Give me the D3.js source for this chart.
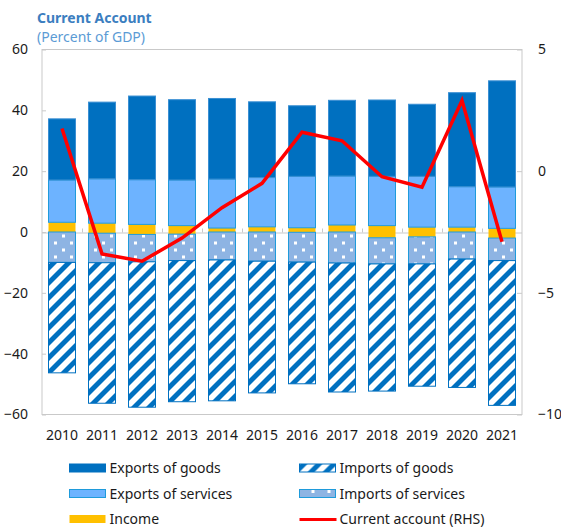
<!DOCTYPE html>
<html>
<head>
<meta charset="utf-8">
<script src="https://cdn.jsdelivr.net/npm/d3@7"></script>
<style>
  html, body { margin: 0; padding: 0; background: #fff; }
  svg { display: block; font-family: "Noto Sans", sans-serif; }
</style>
</head>
<body>
<div id="chart"></div>
<script>
// values in percent of GDP
const years = ['2010', '2011', '2012', '2013', '2014', '2015', '2016', '2017', '2018', '2019', '2020', '2021'];
const incomeCredit = [3.2, 2.9, 2.5, 2.1, 1.3, 1.7, 1.4, 2.3, 2.1, 1.6, 1.6, 1.2];
const incomeDebit = [0, -0.4, -0.8, -0.7, 0, 0, -0.1, 0, -1.9, -1.6, 0, -2.0];
const exportsServices = [13.9, 14.6, 14.7, 15.0, 16.1, 16.2, 16.9, 16.1, 16.2, 16.7, 13.3, 13.6];
const exportsGoods = [20.1, 25.2, 27.5, 26.4, 26.5, 24.9, 23.2, 24.9, 25.1, 23.7, 30.9, 34.9];
const importsServices = [-10.0, -9.7, -9.0, -8.7, -9.2, -9.6, -9.8, -10.2, -8.6, -8.9, -8.9, -7.4];
const importsGoods = [-36.3, -46.2, -47.8, -46.4, -46.3, -43.3, -40.0, -42.4, -41.8, -40.2, -42.2, -47.6];
const currentAccount = [1.75, -3.4, -3.7, -2.75, -1.5, -0.5, 1.6, 1.25, -0.23, -0.66, 2.9, -2.9];

const leftTicks = [60, 40, 20, 0, -20, -40, -60];
const rightTicks = [5, 0, -5, -10];

const width = 561, height = 527;
const margin = { top: 49.5, right: 39, bottom: 112.5, left: 42 };
const innerW = width - margin.left - margin.right;
const innerH = height - margin.top - margin.bottom;

const svg = d3.select('#chart').append('svg')
    .attr('width', width)
    .attr('height', height);

const defs = svg.append('defs');

// white/blue upward diagonal for imports of goods
const hatch = defs.append('pattern')
    .attr('id', 'hatch')
    .attr('patternUnits', 'userSpaceOnUse')
    .attr('width', 15)
    .attr('height', 15);
hatch.append('rect').attr('width', 15).attr('height', 15).attr('fill', '#fff');
hatch.append('path')
    .attr('d', 'M-4,4 L4,-4 M0,15 L15,0 M11,19 L19,11')
    .attr('stroke', '#0070C0')
    .attr('stroke-width', 4.4)
    .attr('shape-rendering', 'crispEdges');

// sparse white dots for imports of services
const dots = defs.append('pattern')
    .attr('id', 'dots')
    .attr('patternUnits', 'userSpaceOnUse')
    .attr('width', 16)
    .attr('height', 14);
dots.append('rect').attr('width', 16).attr('height', 14).attr('fill', '#8EB4E3');
dots.append('rect').attr('x', 4).attr('y', 3).attr('width', 3).attr('height', 3).attr('fill', '#fff');
dots.append('rect').attr('x', 12).attr('y', 10).attr('width', 3).attr('height', 3).attr('fill', '#fff');

const series = [
    { key: 'incomeCredit', values: incomeCredit, fill: '#FFC000', stroke: 'none' },
    { key: 'incomeDebit', values: incomeDebit, fill: '#FFC000', stroke: 'none' },
    { key: 'exportsServices', values: exportsServices, fill: '#6DB3FF', stroke: '#1F9BDB' },
    { key: 'exportsGoods', values: exportsGoods, fill: '#0070C0', stroke: '#3A8FD3' },
    { key: 'importsServices', values: importsServices, fill: 'url(#dots)', stroke: '#1F9BDB' },
    { key: 'importsGoods', values: importsGoods, fill: 'url(#hatch)', stroke: '#0070C0' }
];

const table = years.map((y, i) => {
    const row = { year: y };
    series.forEach(s => { row[s.key] = s.values[i]; });
    return row;
});

const stacked = d3.stack()
    .keys(series.map(s => s.key))
    .offset(d3.stackOffsetDiverging)(table);

const x = d3.scaleBand()
    .domain(years)
    .range([0, innerW])
    .paddingInner(0.3)
    .paddingOuter(0.15);

const y = d3.scaleLinear().domain([-60, 60]).range([innerH, 0]);
const y2 = d3.scaleLinear().domain([-10, 5]).range([innerH, 0]);

const g = svg.append('g')
    .attr('transform', `translate(${margin.left},${margin.top})`);

// frame
g.append('rect')
    .attr('x', 0).attr('y', 0)
    .attr('width', innerW).attr('height', innerH)
    .attr('fill', 'none')
    .attr('stroke', '#c9c9c9')
    .attr('stroke-width', 1);

// zero line with category ticks
g.append('line')
    .attr('x1', 0).attr('x2', innerW)
    .attr('y1', Math.round(y(0)) + 0.5).attr('y2', Math.round(y(0)) + 0.5)
    .attr('stroke', '#c9c9c9');
g.append('g').selectAll('line')
    .data(years.slice(1))
    .join('line')
    .attr('x1', d => Math.round(x(d) - x.step() * x.paddingInner() / 2) + 0.5)
    .attr('x2', d => Math.round(x(d) - x.step() * x.paddingInner() / 2) + 0.5)
    .attr('y1', Math.round(y(0)))
    .attr('y2', Math.round(y(0)) - 4)
    .attr('stroke', '#c9c9c9');

// bars
stacked.forEach((layer, li) => {
    const s = series[li];
    g.append('g')
        .selectAll('rect')
        .data(layer.filter(d => d[1] - d[0] !== 0))
        .join('rect')
        .attr('x', d => x(d.data.year) + 0.5)
        .attr('width', x.bandwidth() - 1)
        .attr('y', d => y(d[1]))
        .attr('height', d => y(d[0]) - y(d[1]))
        .attr('fill', s.fill)
        .attr('stroke', s.stroke)
        .attr('stroke-width', 1);
});

// current account line (RHS)
const line = d3.line()
    .x((d, i) => x(years[i]) + x.bandwidth() / 2)
    .y(d => y2(d));
g.append('path')
    .datum(currentAccount)
    .attr('d', line)
    .attr('fill', 'none')
    .attr('stroke', '#FF0000')
    .attr('stroke-width', 3.5)
    .attr('stroke-linejoin', 'miter');

// axes
const axisLeft = d3.axisLeft(y).tickValues(leftTicks).tickSize(-4).tickPadding(14);
const axisRight = d3.axisRight(y2).tickValues(rightTicks).tickSize(-5).tickPadding(16);
const axisBottom = d3.axisBottom(x).tickSize(0).tickPadding(16);

const styleAxis = sel => {
    sel.select('.domain').remove();
    sel.selectAll('line').attr('stroke', '#c9c9c9');
    sel.selectAll('text').attr('fill', '#1a1a1a').style('font-size', '14px')
        .style('font-family', '"Noto Sans", sans-serif');
};

g.append('g').call(axisLeft).call(styleAxis);
g.append('g').attr('transform', `translate(${innerW},0)`).call(axisRight).call(styleAxis);
g.append('g').attr('transform', `translate(0,${innerH})`).call(axisBottom).call(styleAxis);

// title
svg.append('text')
    .attr('x', 37).attr('y', 23)
    .attr('fill', '#3B7EC0')
    .style('font-size', '14px')
    .style('font-weight', 'bold')
    .text('Current Account');
svg.append('text')
    .attr('x', 37).attr('y', 42)
    .attr('fill', '#5B9BD5')
    .style('font-size', '14px')
    .text('(Percent of GDP)');

// legend
const legendItems = [
    { label: 'Exports of goods', fill: '#0070C0', stroke: '#0070C0', col: 0, row: 0 },
    { label: 'Imports of goods', fill: 'url(#hatch)', stroke: '#0070C0', col: 1, row: 0 },
    { label: 'Exports of services', fill: '#6DB3FF', stroke: '#1F9BDB', col: 0, row: 1 },
    { label: 'Imports of services', fill: 'url(#dots)', stroke: '#1F9BDB', col: 1, row: 1 },
    { label: 'Income', fill: '#FFC000', stroke: 'none', col: 0, row: 2 },
    { label: 'Current account (RHS)', line: true, col: 1, row: 2 }
];
const colX = [69.5, 299.5];
const rowY = [468.5, 494, 519.5];

const legend = svg.append('g');
legendItems.forEach(it => {
    const lg = legend.append('g')
        .attr('transform', `translate(${colX[it.col]},${rowY[it.row]})`);
    if (it.line) {
        lg.append('line')
            .attr('x1', 0).attr('x2', 37)
            .attr('y1', 0).attr('y2', 0)
            .attr('stroke', '#FF0000')
            .attr('stroke-width', 3);
    } else {
        lg.append('rect')
            .attr('x', 0).attr('y', -4.5)
            .attr('width', 36).attr('height', 8)
            .attr('fill', it.fill)
            .attr('stroke', it.stroke);
    }
    lg.append('text')
        .attr('x', 40).attr('y', 0)
        .attr('dy', '0.35em')
        .attr('fill', '#1a1a1a')
        .style('font-size', '14px')
        .text(it.label);
});
</script>
</body>
</html>
